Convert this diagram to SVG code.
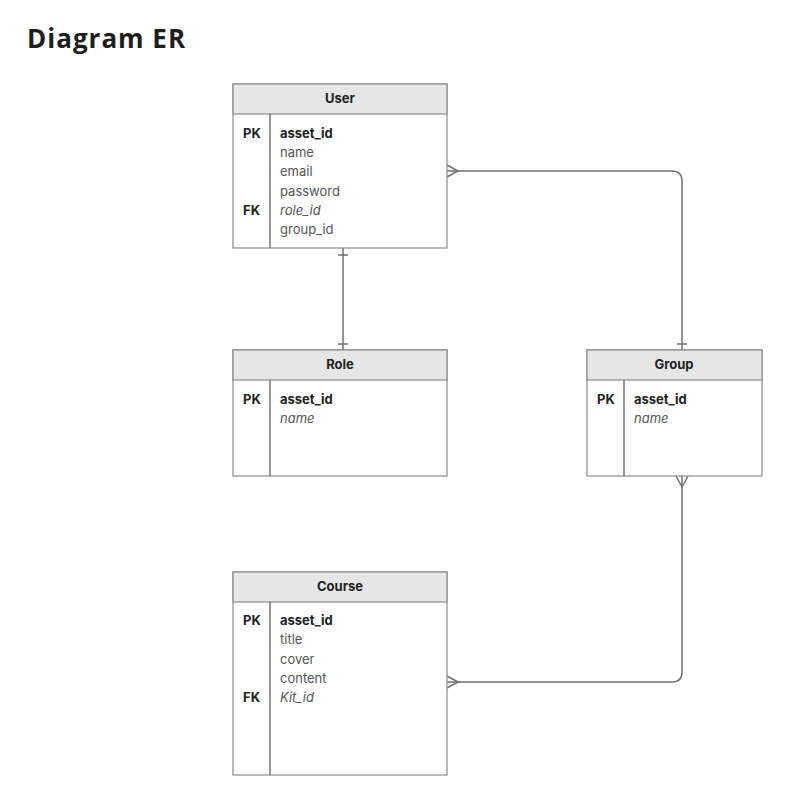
<svg xmlns="http://www.w3.org/2000/svg" width="789" height="796" viewBox="0 0 789 796">
<style>
.box{fill:#fff;stroke:#8c8c8c;stroke-width:1.2}
.hdr{fill:#e6e6e6;stroke:#8c8c8c;stroke-width:1.2}
.div{stroke:#555;stroke-width:1.2}
.t{font-family:"Inter","Liberation Sans",sans-serif;font-size:13px;fill:#555}
.b{font-weight:bold;fill:#222}
.i{font-style:italic}
.h{font-family:"Inter","Liberation Sans",sans-serif;font-size:13px;font-weight:bold;fill:#222;text-anchor:middle}
.c{fill:none;stroke:#707070;stroke-width:1.5}
</style>
<rect width="789" height="796" fill="#fff"/>
<text x="27" y="48" font-family="'Open Sans','Liberation Sans',sans-serif" font-size="26" font-weight="bold" letter-spacing="1" fill="#1e1e1e">Diagram ER</text>

<g id="connectors">
  <path class="c" d="M343 248 V350"/>
  <path class="c" d="M338 255 H348 M338 344 H348"/>
  <path class="c" d="M447 171 H672 Q682 171 682 181 V350"/>
  <path class="c" d="M677 344 H687"/>
  <path class="c" d="M447 165 L458 171 L447 177"/>
  <path class="c" d="M682 476 V672 Q682 682 672 682 H447"/>
  <path class="c" d="M676 476 L682 487 L688 476"/>
  <path class="c" d="M447 676 L458 682 L447 688"/>
</g>

<g id="user">
  <rect class="box" x="233" y="84" width="214" height="164"/>
  <rect class="hdr" x="233" y="84" width="214" height="30"/>
  <line class="div" x1="270" y1="114" x2="270" y2="248"/>
  <text class="h" x="340" y="103">User</text>
  <text class="t b" x="243" y="138">PK</text>
  <text class="t b" x="280" y="138">asset_id</text>
  <text class="t" x="280" y="157">name</text>
  <text class="t" x="280" y="176">email</text>
  <text class="t" x="280" y="196">password</text>
  <text class="t b" x="243" y="215">FK</text>
  <text class="t i" x="280" y="215">role_id</text>
  <text class="t" x="280" y="234">group_id</text>
</g>

<g id="role">
  <rect class="box" x="233" y="350" width="214" height="126"/>
  <rect class="hdr" x="233" y="350" width="214" height="30"/>
  <line class="div" x1="270" y1="380" x2="270" y2="476"/>
  <text class="h" x="340" y="369">Role</text>
  <text class="t b" x="243" y="404">PK</text>
  <text class="t b" x="280" y="404">asset_id</text>
  <text class="t i" x="280" y="423">name</text>
</g>

<g id="group">
  <rect class="box" x="587" y="350" width="175" height="126"/>
  <rect class="hdr" x="587" y="350" width="175" height="30"/>
  <line class="div" x1="624" y1="380" x2="624" y2="476"/>
  <text class="h" x="674" y="369">Group</text>
  <text class="t b" x="597" y="404">PK</text>
  <text class="t b" x="634" y="404">asset_id</text>
  <text class="t i" x="634" y="423">name</text>
</g>

<g id="course">
  <rect class="box" x="233" y="572" width="214" height="203"/>
  <rect class="hdr" x="233" y="572" width="214" height="30"/>
  <line class="div" x1="270" y1="602" x2="270" y2="775"/>
  <text class="h" x="340" y="591">Course</text>
  <text class="t b" x="243" y="625">PK</text>
  <text class="t b" x="280" y="625">asset_id</text>
  <text class="t" x="280" y="644">title</text>
  <text class="t" x="280" y="664">cover</text>
  <text class="t" x="280" y="683">content</text>
  <text class="t b" x="243" y="702">FK</text>
  <text class="t i" x="280" y="702">Kit_id</text>
</g>
</svg>
